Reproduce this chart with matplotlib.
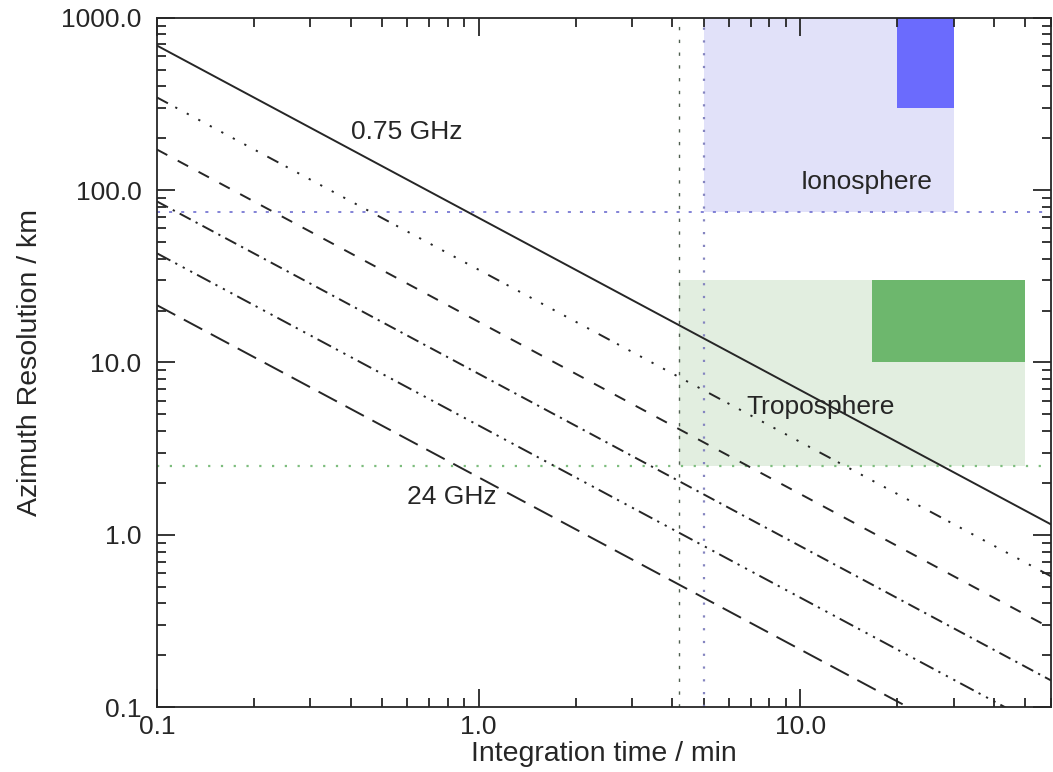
import numpy as np
import matplotlib.pyplot as plt
from matplotlib.ticker import FixedLocator, LogLocator, FuncFormatter, NullFormatter

plt.rcParams['font.family'] = ['Liberation Sans', 'DejaVu Sans']
plt.rcParams['lines.scale_dashes'] = False

# integration time (min) at the two ends of each curve
times = [0.1, 60.0]

# azimuth resolution (km) at those times, one curve per frequency
res_0p75 = [690.0, 1.15]
res_1p5 = [345.0, 0.575]
res_3 = [172.0, 0.287]
res_6 = [86.0, 0.143]
res_12 = [43.0, 0.072]
res_24 = [21.5, 0.036]

# requirement limits
iono_time = 5.0
iono_res = 75.0
tropo_time = 4.2
tropo_res = 2.5

# shaded regions: (t0, t1, r0, r1)
iono_box = (5.0, 30.0, 75.0, 1000.0)
iono_core = (20.0, 30.0, 300.0, 1000.0)
tropo_box = (4.2, 50.0, 2.5, 30.0)
tropo_core = (16.7, 50.0, 10.0, 30.0)

x_ticks = [0.1, 1.0, 10.0]
y_ticks = [0.1, 1.0, 10.0, 100.0, 1000.0]

ink = '#262626'
fs = 19


def main():
    fig, ax = plt.subplots(figsize=(10.53, 7.72), dpi=100)
    fig.subplots_adjust(left=0.149, right=0.998, bottom=0.084, top=0.977)

    ax.set_xscale('log')
    ax.set_yscale('log')
    ax.set_xlim(0.1, 60)
    ax.set_ylim(0.1, 1000)

    # shaded areas
    for box, clr in [(iono_box, '#e1e1f9'), (iono_core, '#6b6bfd'),
                     (tropo_box, '#e2eee0'), (tropo_core, '#6db76d')]:
        t0, t1, r0, r1 = box
        ax.fill_between([t0, t1], r0, r1, color=clr, lw=0, zorder=1)

    # limit lines
    ax.axhline(iono_res, color='#6d6dd0', lw=1.2, ls=(0, (2.2, 6.5)), zorder=2)
    ax.axvline(iono_time, color='#8585c0', lw=1.6, ls=(0, (1.6, 7.6)), zorder=2)
    ax.axvline(tropo_time, color='#4f5f4f', lw=1.0, ls=(0, (2.4, 6.8)), zorder=2)
    ax.axhline(tropo_res, color='#7dbd7d', lw=1.6, ls=(0, (1.6, 7.6)), zorder=2)

    dots = ()
    for _ in range(8):
        dots += (1.6, 7.8)
    styles = [
        (res_0p75, '-'),
        (res_1p5, (0, (9, 6) + dots)),
        (res_3, (0, (8.5, 8.5))),
        (res_6, (0, (9, 4, 1.6, 4))),
        (res_12, (0, (11, 4, 1.6, 4.5, 1.6, 4.5, 1.6, 4))),
        (res_24, (0, (15, 7))),
    ]
    for res, ls in styles:
        ax.plot(times, res, color=ink, lw=1.4, ls=ls, zorder=4)

    ax.text(0.40, 218, '0.75 GHz', fontsize=fs, color=ink, va='center', zorder=3)
    ax.text(0.60, 1.66, '24 GHz', fontsize=fs, color=ink, va='center', zorder=3)
    ax.text(10.0, 112, 'Ionosphere', fontsize=fs, color=ink, va='center', zorder=3)
    ax.text(6.8, 5.5, 'Troposphere', fontsize=fs, color=ink, va='center', zorder=3)

    ax.xaxis.set_major_locator(FixedLocator(x_ticks))
    ax.yaxis.set_major_locator(FixedLocator(y_ticks))
    ax.xaxis.set_minor_locator(LogLocator(base=10, subs=np.arange(2, 10)))
    ax.yaxis.set_minor_locator(LogLocator(base=10, subs=np.arange(2, 10)))
    fmt = FuncFormatter(lambda v, p: '%.1f' % v)
    ax.xaxis.set_major_formatter(fmt)
    ax.yaxis.set_major_formatter(fmt)
    ax.xaxis.set_minor_formatter(NullFormatter())
    ax.yaxis.set_minor_formatter(NullFormatter())

    ax.tick_params(which='both', direction='in', top=True, right=True,
                   color=ink, width=1.3)
    ax.tick_params(which='major', length=13, labelsize=fs, labelcolor=ink)
    ax.tick_params(axis='x', which='major', pad=6)
    ax.tick_params(axis='y', which='major', pad=11)
    ax.tick_params(which='minor', length=6.5)
    for sp in ax.spines.values():
        sp.set_color(ink)
        sp.set_linewidth(1.3)
        sp.set_zorder(5)

    ax.set_xlabel('Integration time / min', fontsize=20.5, color=ink, labelpad=1)
    ax.set_ylabel('Azimuth Resolution / km', fontsize=20.5, color=ink, labelpad=13)

    fig.savefig('out.png', dpi=100)


if __name__ == '__main__':
    main()
